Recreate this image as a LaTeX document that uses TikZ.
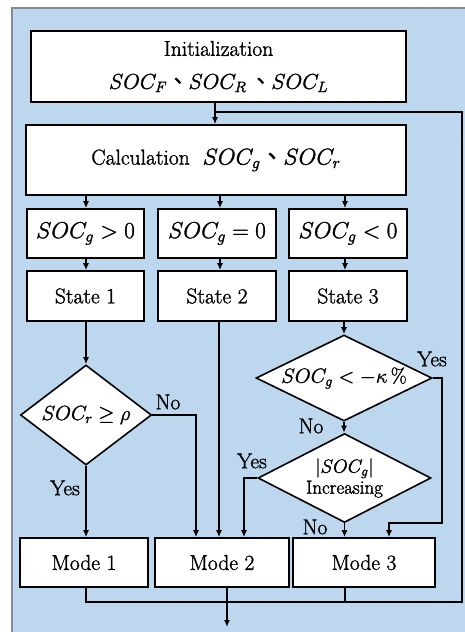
\RequirePackage{fix-cm}
\documentclass[tikz,border=0pt]{standalone}
\usepackage{fontspec}
\newfontfamily\cjk{Noto Sans CJK TC}
\usetikzlibrary{shapes.geometric,arrows.meta}
\definecolor{bgblue}{HTML}{BDD7EE}
\definecolor{bggray}{HTML}{7F8B99}
\newcommand\fsA{\fontsize{23}{31}\selectfont}
\newcommand\fsT{\fontsize{21.5}{33}\selectfont}
\newcommand\fsD{\fontsize{20.5}{24}\selectfont}
\newcommand\fsB{\fontsize{19}{21}\selectfont}
\newcommand\dun{{\cjk 、}}
\newcommand\heavytext{\special{pdf:literal 2 Tr 0.3 w}}
\begin{document}
\begin{tikzpicture}[x=1pt,y=-1pt,
  every node/.append style={execute at begin node=\heavytext},
  box/.style={draw, fill=white, line width=1.6pt, inner sep=0pt, font=\fsT, align=center},
  dia/.style={diamond, draw, fill=white, line width=1.6pt, inner sep=0pt},
  conn/.style={line width=1.4pt},
  arr/.style={conn, -{Latex[length=7pt,width=6pt]}},
  lbl/.style={font=\fsT, inner sep=0pt, align=center}]

\useasboundingbox (0,0) rectangle (465,632);
\fill[bgblue] (12,8) rectangle (465,632);
\draw[bggray, line width=1.5pt] (12,632) -- (12,8) -- (465,8);

% boxes
\node[box, minimum width=375, minimum height=71] (init) at (218.5,66.5) {Initialization\\ $SOC_F$\dun$SOC_R$\,\dun$SOC_L$};
\node[box, minimum width=380, minimum height=70] (calc) at (216,160) {Calculation\ \ {\fsA$SOC_g$\dun$SOC_r$}};

\node[box, font=\fsA, minimum width=117, minimum height=49] (c1) at (85.5,233.5) {$SOC_g>0$};
\node[box, font=\fsA, minimum width=118, minimum height=49] (c2) at (217,233.5) {$SOC_g=0$};
\node[box, font=\fsA, minimum width=118, minimum height=49] (c3) at (348,233.5) {$SOC_g<0$};

\node[box, minimum width=117, minimum height=50] (s1) at (85.5,296) {State 1};
\node[box, minimum width=118, minimum height=50] (s2) at (217,296) {State 2};
\node[box, minimum width=118, minimum height=50] (s3) at (348,296) {State 3};

\node[dia, minimum width=131, minimum height=100] (d1) at (86,415) {};
\node[lbl, font=\fsD] (d1t) at (d1) {$SOC_r\geq\rho$};
\node[dia, minimum width=176, minimum height=86] (d2) at (344,378) {};
\node[lbl, font=\fsD] (d2t) at (d2) {$SOC_g<-\kappa\,\%$};
\node[dia, minimum width=173, minimum height=89] (d3) at (344.5,478) {};
\node[lbl, font=\fsB] (d3t) at (d3) {$|SOC_g|$\\Increasing};

\node[box, minimum width=128, minimum height=49] (m1) at (84,562.5) {Mode 1};
\node[box, minimum width=134, minimum height=49] (m2) at (222,562.5) {Mode 2};
\node[box, minimum width=142, minimum height=49] (m3) at (364,562.5) {Mode 3};

% helper coordinates
\coordinate (xa) at (215,0);
\coordinate (x1) at (86,0);
\coordinate (x2) at (220,0);
\coordinate (x3) at (345,0);
\coordinate (x2b) at (219,0);
\coordinate (p1) at (196,0);
\coordinate (p3) at (244,0);
\coordinate (q) at (442,523);
\coordinate (r) at (389,523);
\coordinate (b1) at (86,602);
\coordinate (b) at (462,602);
\coordinate (t) at (462,112);
\coordinate (out) at (227,627);

% connectors
\draw[arr] (init.south -| xa) -- (calc.north -| xa);
\draw[arr] (calc.south -| x1) -- (c1.north -| x1);
\draw[arr] (calc.south -| x2) -- (c2.north -| x2);
\draw[arr] (calc.south -| x3) -- (c3.north -| x3);
\draw[arr] (c1.south -| x1) -- (s1.north -| x1);
\draw[arr] (c2.south -| x2) -- (s2.north -| x2);
\draw[arr] (c3.south -| x3) -- (s3.north -| x3);
\draw[arr] (s1.south -| d1.north) -- (d1.north);
\draw[arr] (s2.south -| x2b) -- (m2.north -| x2b);
\draw[arr] (s3.south -| d2.north) -- (d2.north);
\draw[arr] (d1.east) -| (m2.north -| p1);
\draw[arr] (d1.south) -- (m1.north -| d1.south);
\draw[arr] (d2.south) -- (d3.north -| d2.south);
\draw[arr] (d3.west) -| (m2.north -| p3);
\draw[arr] (d3.south) -- (m3.north -| d3.south);
\draw[arr] (d2.east) -| (q) -- (r) -- (m3.north -| r);
\draw[conn] (m1.south -| b1) -- (b1) -- (b) -- (t) -- (t -| xa);
\draw[conn] (m3.south -| x3) -- (b -| x3);
\draw[arr] (m2.south -| out) -- (out);

% labels
\node[lbl] (n1) at (168,402) {No};
\node[lbl] (y1) at (65,488) {Yes};
\node[lbl] (y2) at (432,359) {Yes};
\node[lbl] (n2) at (311,426) {No};
\node[lbl] (y3) at (252,461) {Yes};
\node[lbl] (n3) at (315,527) {No};
\end{tikzpicture}
\end{document}
